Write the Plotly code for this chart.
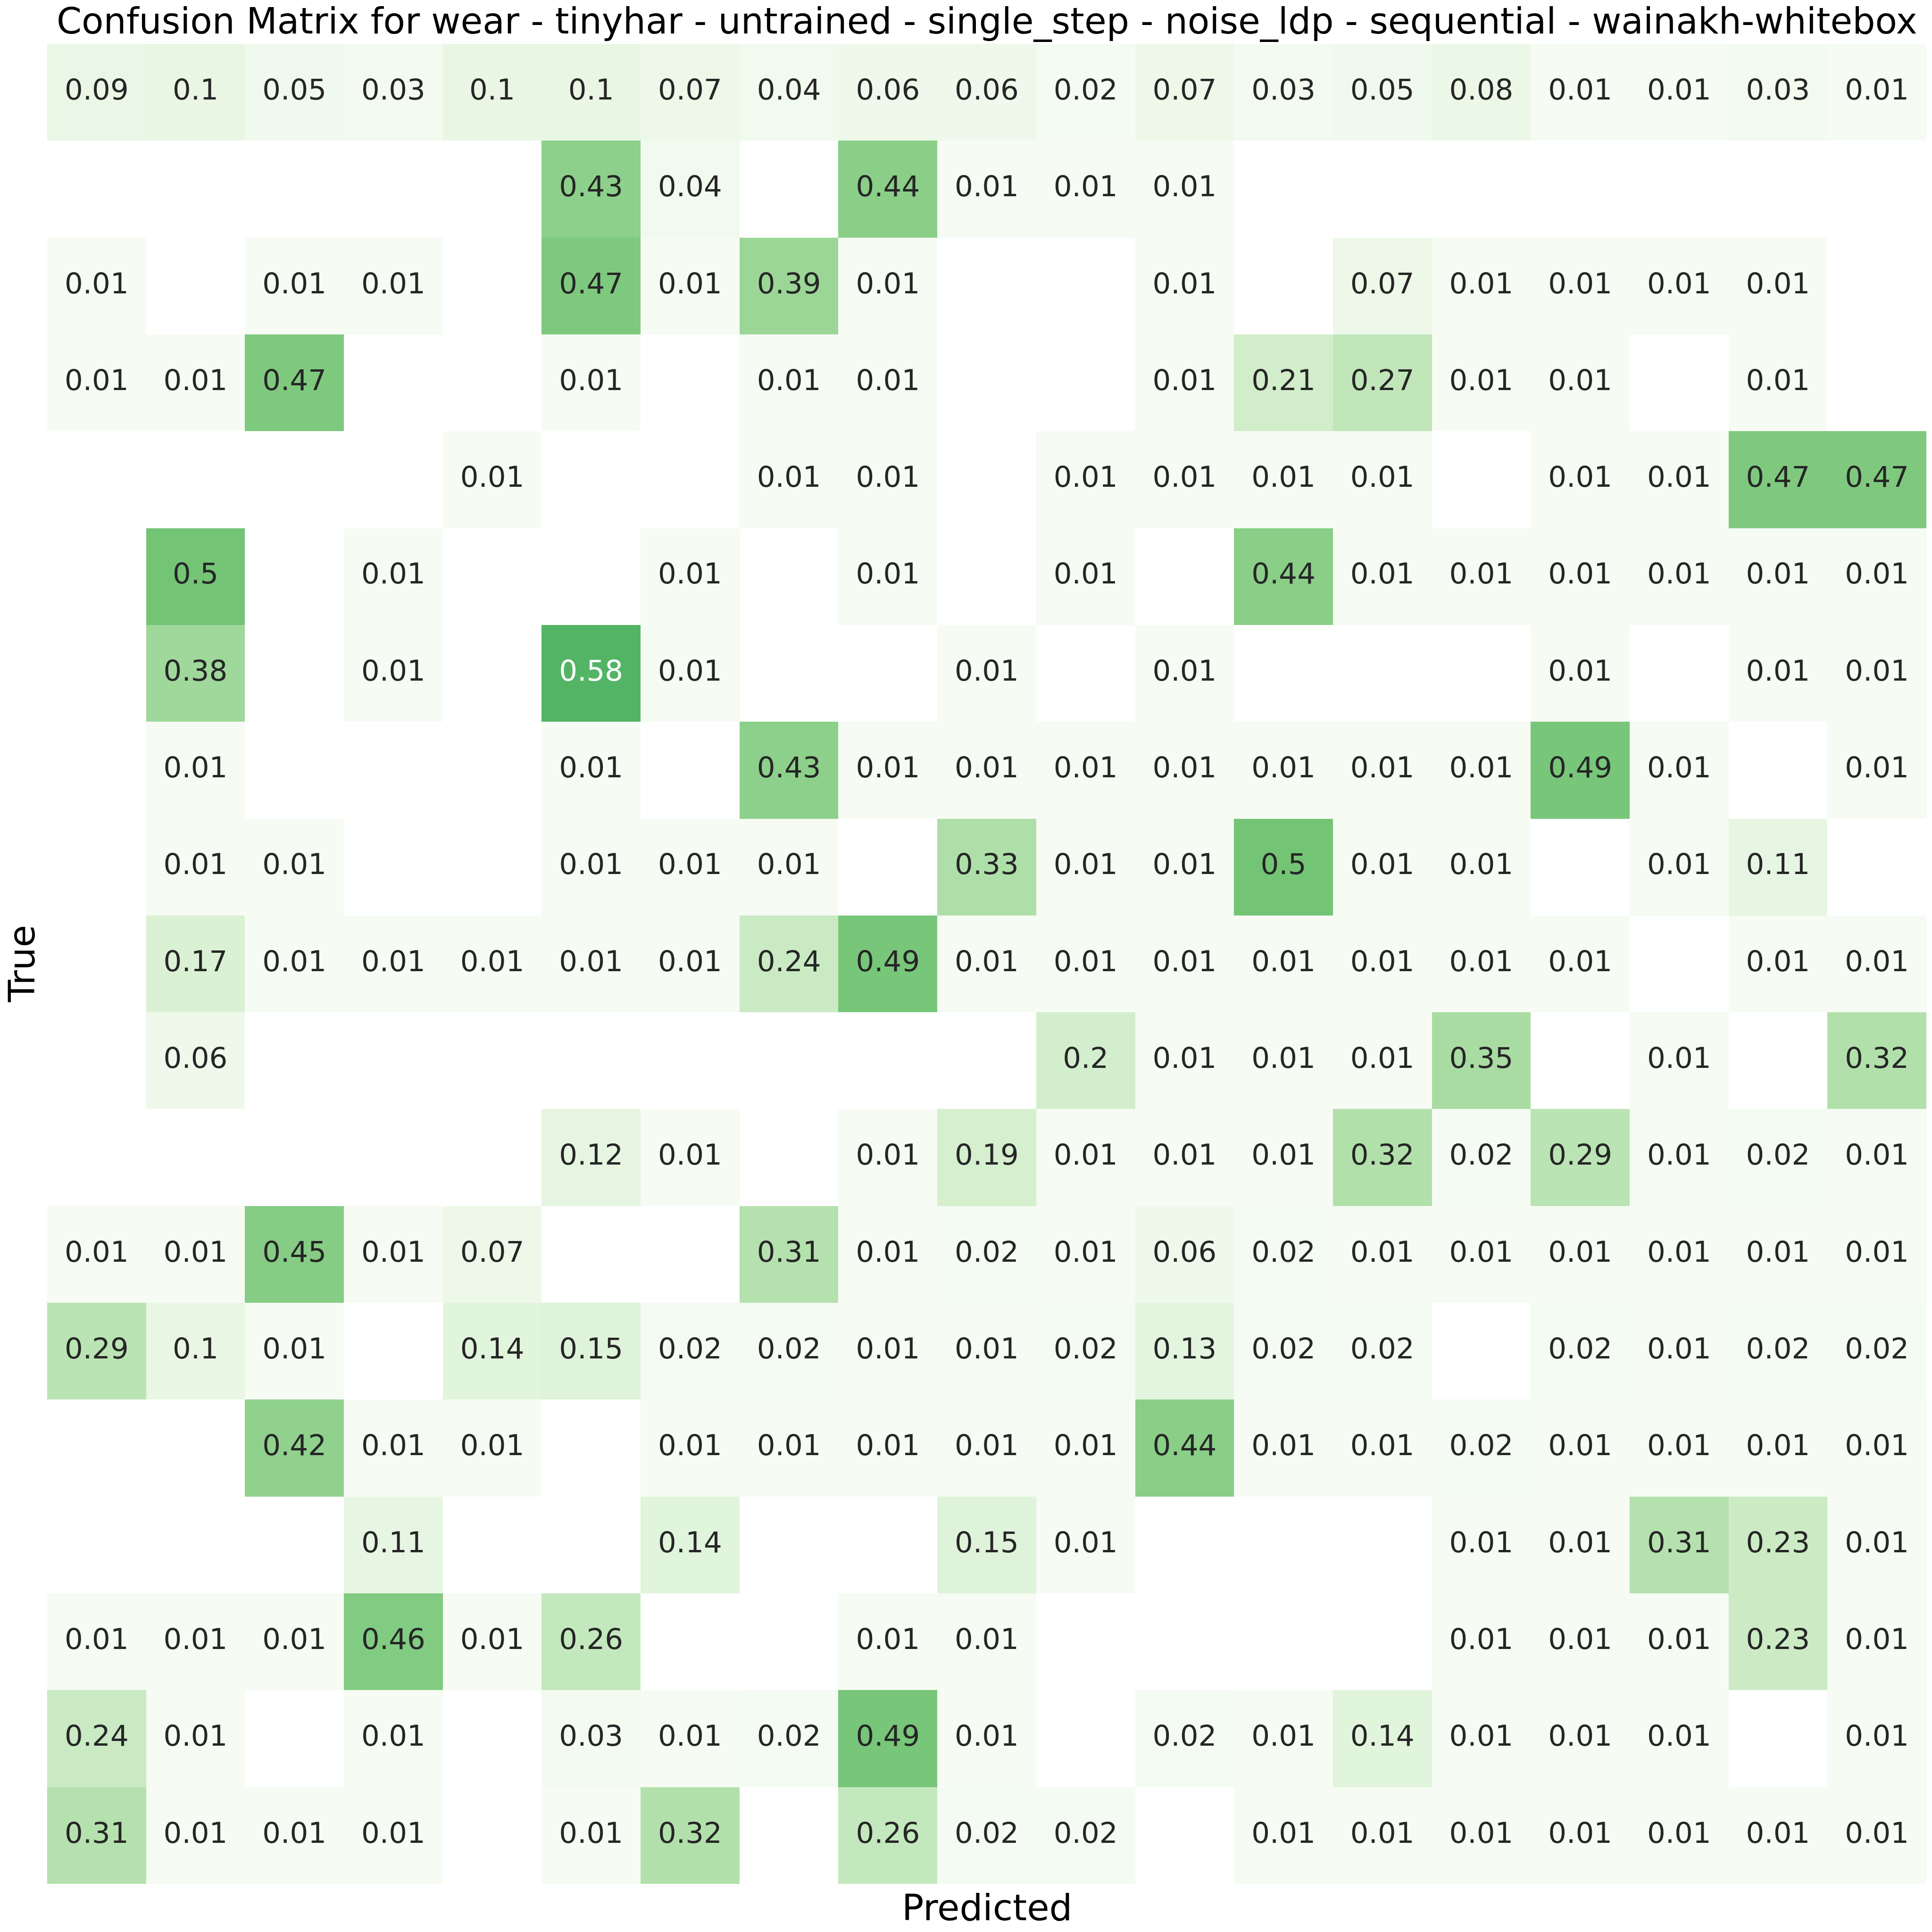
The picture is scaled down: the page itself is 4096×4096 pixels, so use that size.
import plotly.graph_objects as go

# ---- data (0 = empty cell) ----
n_classes = 19
rows = [
    [0.09, 0.1, 0.05, 0.03, 0.1, 0.1, 0.07, 0.04, 0.06, 0.06, 0.02, 0.07, 0.03, 0.05, 0.08, 0.01, 0.01, 0.03, 0.01],
    [0, 0, 0, 0, 0, 0.43, 0.04, 0, 0.44, 0.01, 0.01, 0.01, 0, 0, 0, 0, 0, 0, 0],
    [0.01, 0, 0.01, 0.01, 0, 0.47, 0.01, 0.39, 0.01, 0, 0, 0.01, 0, 0.07, 0.01, 0.01, 0.01, 0.01, 0],
    [0.01, 0.01, 0.47, 0, 0, 0.01, 0, 0.01, 0.01, 0, 0, 0.01, 0.21, 0.27, 0.01, 0.01, 0, 0.01, 0],
    [0, 0, 0, 0, 0.01, 0, 0, 0.01, 0.01, 0, 0.01, 0.01, 0.01, 0.01, 0, 0.01, 0.01, 0.47, 0.47],
    [0, 0.5, 0, 0.01, 0, 0, 0.01, 0, 0.01, 0, 0.01, 0, 0.44, 0.01, 0.01, 0.01, 0.01, 0.01, 0.01],
    [0, 0.38, 0, 0.01, 0, 0.58, 0.01, 0, 0, 0.01, 0, 0.01, 0, 0, 0, 0.01, 0, 0.01, 0.01],
    [0, 0.01, 0, 0, 0, 0.01, 0, 0.43, 0.01, 0.01, 0.01, 0.01, 0.01, 0.01, 0.01, 0.49, 0.01, 0, 0.01],
    [0, 0.01, 0.01, 0, 0, 0.01, 0.01, 0.01, 0, 0.33, 0.01, 0.01, 0.5, 0.01, 0.01, 0, 0.01, 0.11, 0],
    [0, 0.17, 0.01, 0.01, 0.01, 0.01, 0.01, 0.24, 0.49, 0.01, 0.01, 0.01, 0.01, 0.01, 0.01, 0.01, 0, 0.01, 0.01],
    [0, 0.06, 0, 0, 0, 0, 0, 0, 0, 0, 0.2, 0.01, 0.01, 0.01, 0.35, 0, 0.01, 0, 0.32],
    [0, 0, 0, 0, 0, 0.12, 0.01, 0, 0.01, 0.19, 0.01, 0.01, 0.01, 0.32, 0.02, 0.29, 0.01, 0.02, 0.01],
    [0.01, 0.01, 0.45, 0.01, 0.07, 0, 0, 0.31, 0.01, 0.02, 0.01, 0.06, 0.02, 0.01, 0.01, 0.01, 0.01, 0.01, 0.01],
    [0.29, 0.1, 0.01, 0, 0.14, 0.15, 0.02, 0.02, 0.01, 0.01, 0.02, 0.13, 0.02, 0.02, 0, 0.02, 0.01, 0.02, 0.02],
    [0, 0, 0.42, 0.01, 0.01, 0, 0.01, 0.01, 0.01, 0.01, 0.01, 0.44, 0.01, 0.01, 0.02, 0.01, 0.01, 0.01, 0.01],
    [0, 0, 0, 0.11, 0, 0, 0.14, 0, 0, 0.15, 0.01, 0, 0, 0, 0.01, 0.01, 0.31, 0.23, 0.01],
    [0.01, 0.01, 0.01, 0.46, 0.01, 0.26, 0, 0, 0.01, 0.01, 0, 0, 0, 0, 0.01, 0.01, 0.01, 0.23, 0.01],
    [0.24, 0.01, 0, 0.01, 0, 0.03, 0.01, 0.02, 0.49, 0.01, 0, 0.02, 0.01, 0.14, 0.01, 0.01, 0.01, 0, 0.01],
    [0.31, 0.01, 0.01, 0.01, 0, 0.01, 0.32, 0, 0.26, 0.02, 0.02, 0, 0.01, 0.01, 0.01, 0.01, 0.01, 0.01, 0.01],
]
classes = list(range(n_classes))
title_text = ("Confusion Matrix for wear - tinyhar - untrained - single_step - "
              "noise_ldp - sequential - wainakh-whitebox")
x_label = "Predicted"
y_label = "True"

# matplotlib "Greens"
greens = ['#f7fcf5', '#e5f5e0', '#c7e9c0', '#a1d99b', '#74c476',
          '#41ab5d', '#238b45', '#006d2c', '#00441b']
colorscale = [[i / (len(greens) - 1), c] for i, c in enumerate(greens)]


def hex2rgb(h):
    h = h.lstrip('#')
    return [int(h[i:i + 2], 16) / 255 for i in (0, 2, 4)]


def cmap(v):
    pos = v * (len(greens) - 1)
    i = min(int(pos), len(greens) - 2)
    f = pos - i
    a, b = hex2rgb(greens[i]), hex2rgb(greens[i + 1])
    return [a[k] + (b[k] - a[k]) * f for k in range(3)]


def luminance(rgb):
    out = []
    for c in rgb:
        out.append(c / 12.92 if c <= 0.03928 else ((c + 0.055) / 1.055) ** 2.4)
    return 0.2126 * out[0] + 0.7152 * out[1] + 0.0722 * out[2]


z = [[(v if v > 0 else None) for v in r] for r in rows]

tx, ty, tt, tc = [], [], [], []
for i, r in enumerate(rows):
    for j, v in enumerate(r):
        if v > 0:
            tx.append(j)
            ty.append(i)
            tt.append(format(v, '.2g'))
            tc.append('#ffffff' if luminance(cmap(v)) <= 0.408 else '#262626')

FONT = "DejaVu Sans"

fig = go.Figure()
fig.add_trace(go.Heatmap(
    z=z, x=classes, y=classes, colorscale=colorscale, zmin=0, zmax=1,
    showscale=False, hoverongaps=False,
))
fig.add_trace(go.Scatter(
    x=tx, y=ty, mode="text", text=tt,
    textfont=dict(family=FONT, size=61, color=tc),
    hoverinfo="skip", showlegend=False,
))

fig.update_layout(
    width=4096, height=4096,
    margin=dict(l=100, r=12, t=93, b=102),
    paper_bgcolor="white", plot_bgcolor="white",
    showlegend=False,
    annotations=[
        dict(text=title_text, xref="paper", yref="paper", x=0.5, y=1,
             xanchor="center", yanchor="bottom", yshift=2, showarrow=False,
             font=dict(family=FONT, size=76, color="black")),
        dict(text=x_label, xref="paper", yref="paper", x=0.5, y=0,
             xanchor="center", yanchor="top", yshift=-4, showarrow=False,
             font=dict(family=FONT, size=77, color="black")),
        dict(text=y_label, xref="paper", yref="paper", x=0, y=0.5,
             xanchor="center", yanchor="middle", xshift=-54, textangle=-90,
             showarrow=False,
             font=dict(family=FONT, size=77, color="black")),
    ],
)
fig.update_xaxes(range=[-0.5, n_classes - 0.5], showticklabels=False, ticks="",
                 showgrid=False, zeroline=False, showline=False)
fig.update_yaxes(range=[n_classes - 0.5, -0.5], showticklabels=False, ticks="",
                 showgrid=False, zeroline=False, showline=False)

fig.write_html("out.html")
